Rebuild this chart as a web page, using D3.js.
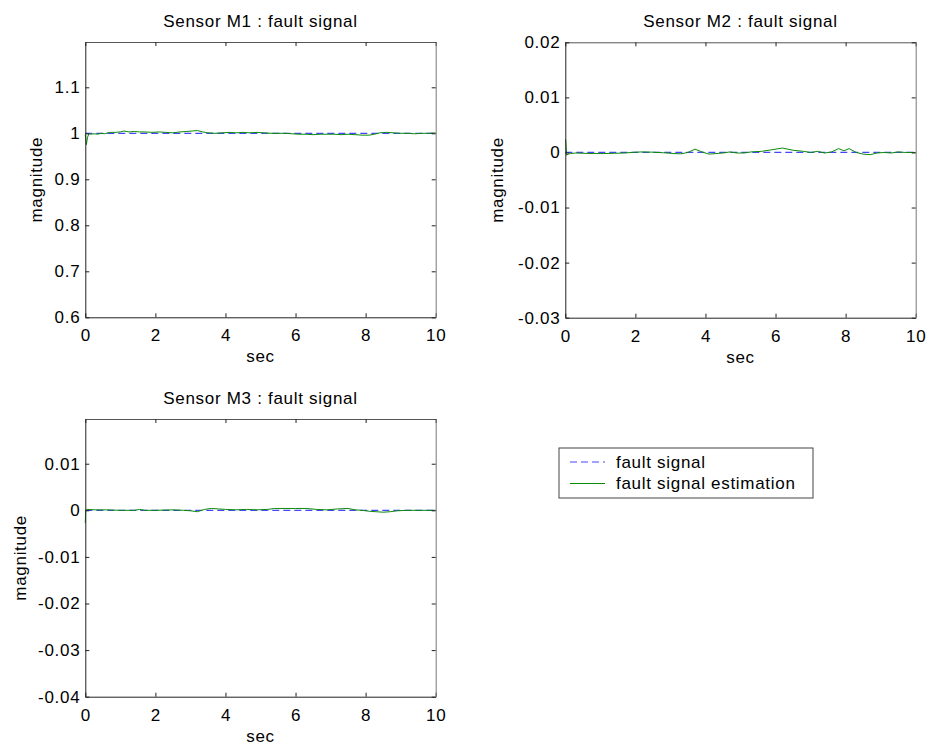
<!DOCTYPE html>
<html>
<head>
<meta charset="utf-8">
<script src="https://cdn.jsdelivr.net/npm/d3@7"></script>
<style>
  body { margin: 0; background: #fff; }
  svg text { font-family: Arial, "Liberation Sans", Helvetica, sans-serif; fill: #000; letter-spacing: 0.7px; }
</style>
</head>
<body>
<script>
// ---- data ----
// fault signal level for each sensor (constant)
var faultLevel = [1, 0, 0];

// Sensor M1 estimate
var timeM1 = [0.00, 0.03, 0.06, 0.10, 0.15, 0.25, 0.35, 0.45, 0.55, 0.70, 0.85, 1.00, 1.10, 1.25, 1.40, 1.55, 1.70, 1.90,
  2.10, 2.30, 2.50, 2.70, 2.90, 3.05, 3.20, 3.35, 3.50, 3.70, 3.90, 4.10, 4.30, 4.50, 4.70, 4.90, 5.10, 5.30, 5.50,
  5.70, 5.90, 6.10, 6.30, 6.50, 6.70, 6.90, 7.10, 7.30, 7.50, 7.70, 7.90, 8.10, 8.25, 8.40, 8.60, 8.80, 9.00, 9.20,
  9.40, 9.60, 9.80, 10.00];
var estM1 = [0.997, 0.975, 0.990, 0.999, 0.998, 0.999, 0.998, 1.000, 0.999, 1.002, 1.002, 1.003, 1.005, 1.003, 1.004,
  1.003, 1.003, 1.002, 1.003, 1.002, 1.001, 1.003, 1.004, 1.005, 1.006, 1.003, 1.001, 1.000, 1.001, 1.002, 1.001,
  1.002, 1.001, 1.002, 1.001, 1.000, 1.000, 1.000, 0.999, 0.998, 0.998, 0.997, 0.998, 0.998, 0.998, 0.997, 0.998,
  0.997, 0.996, 0.996, 0.998, 1.001, 1.002, 1.001, 1.000, 1.000, 0.999, 1.000, 1.000, 1.001];

// Sensor M2 estimate
var timeM2 = [0.00, 0.01, 0.04, 0.08, 0.15, 0.3, 0.5, 0.8, 1.1, 1.4, 1.7, 2.0, 2.2, 2.5, 2.8, 3.1, 3.3, 3.5, 3.7, 3.9,
  4.1, 4.3, 4.5, 4.7, 4.9, 5.1, 5.3, 5.6, 5.9, 6.2, 6.5, 6.8, 7.0, 7.2, 7.4, 7.6, 7.8, 7.95, 8.1, 8.3, 8.5, 8.7,
  8.9, 9.1, 9.3, 9.5, 9.7, 10.0];
var estM2 = [0.0023, 0.00235, -0.0005, -0.0003, -0.0002, -0.0001, -0.00015, -0.0002, -0.0002, -0.00015, -0.0001,
  0.00005, 0.0001, 0.00005, -0.00005, -0.0002, -0.00025, 0.0, 0.0006, 0.0001, -0.0003, -0.0002, -0.0001, 0.0001,
  -0.0001, -0.0001, 0.0001, 0.0002, 0.0005, 0.0008, 0.0004, 0.0002, 0.0, 0.0002, -0.0001, 0.0001, 0.0007, 0.0003,
  0.0007, 0.0, -0.0003, -0.0004, -0.0001, 0.0, -0.0001, 0.0001, 0.0, 0.0];

// Sensor M3 estimate
var timeM3 = [0.00, 0.01, 0.05, 0.3, 0.6, 1.0, 1.4, 1.55, 1.7, 2.0, 2.5, 2.8, 3.0, 3.2, 3.4, 3.6, 3.8, 4.0, 4.3, 4.6,
  4.9, 5.2, 5.4, 5.7, 6.0, 6.3, 6.6, 6.9, 7.2, 7.5, 7.7, 7.9, 8.1, 8.3, 8.5, 8.7, 8.9, 9.2, 9.5, 9.8, 10.0];
var estM3 = [-0.0027, -0.0001, 0.0002, 0.0001, 0.0001, 0.0, 0.0, 0.0002, 0.0, 0.0, 0.0001, 0.0, -0.0001, -0.0003,
  0.0002, 0.0004, 0.0003, 0.0002, 0.0001, 0.0002, 0.0001, 0.0002, 0.0004, 0.0004, 0.0004, 0.0004, 0.0002, 0.0001,
  0.0003, 0.0004, 0.0001, 0.0, -0.0002, -0.0003, -0.0004, -0.0003, -0.0001, 0.0, 0.0, 0.0, 0.0];

// axis ticks
var xTicks = [0, 2, 4, 6, 8, 10];
var yTicksM1 = [0.6, 0.7, 0.8, 0.9, 1, 1.1];
var yTicksM2 = [-0.03, -0.02, -0.01, 0, 0.01, 0.02];
var yTicksM3 = [-0.04, -0.03, -0.02, -0.01, 0, 0.01];

var titles = ['Sensor M1 : fault signal', 'Sensor M2 : fault signal', 'Sensor M3 : fault signal'];
var legendLabels = ['fault signal', 'fault signal estimation'];

// ---- layout ----
var W = 930, H = 749;
var FONT = 17;
var blue = '#4646ff', green = '#0a8a0a';

var panels = [
  {x0: 85.3, x1: 435.7, y0: 42, y1: 317.3, yDom: [0.6, 1.1985], yTicks: yTicksM1, t: timeM1, v: estM1, f: faultLevel[0], title: titles[0], ylx: 42},
  {x0: 565.3, x1: 915.7, y0: 42.3, y1: 317.7, yDom: [-0.03, 0.02], yTicks: yTicksM2, t: timeM2, v: estM2, f: faultLevel[1], title: titles[1], ylx: 503},
  {x0: 85.3, x1: 435.7, y0: 419, y1: 696.7, yDom: [-0.04, 0.0196], yTicks: yTicksM3, t: timeM3, v: estM3, f: faultLevel[2], title: titles[2], ylx: 26}
];

// matlab style labels: plain hyphen, no trailing zeros
function fmt(d) { return String(+d.toFixed(4)); }

var svg = d3.select('body')
  .append('svg')
    .attr('width', W)
    .attr('height', H);

panels.forEach(function(p) {
  var x = d3.scaleLinear().domain([0, 10]).range([p.x0, p.x1]);
  var y = d3.scaleLinear().domain(p.yDom).range([p.y1, p.y0]);
  var g = svg.append('g');

  g.append('rect')
    .attr('x', p.x0).attr('y', p.y0)
    .attr('width', p.x1 - p.x0).attr('height', p.y1 - p.y0)
    .attr('fill', '#fff');

  // fault signal (dashed)
  g.append('path')
    .datum(xTicks.filter(function(d, i) { return i == 0 || i == xTicks.length - 1; }))
    .attr('fill', 'none')
    .attr('stroke', blue)
    .attr('stroke-width', 1.2)
    .attr('stroke-dasharray', '7,4')
    .attr('d', d3.line().x(function(d) { return x(d); }).y(function() { return y(p.f); }));

  // estimation
  g.append('path')
    .datum(d3.zip(p.t, p.v))
    .attr('fill', 'none')
    .attr('stroke', green)
    .attr('stroke-width', 1)
    .attr('d', d3.line().x(function(d) { return x(d[0]); }).y(function(d) { return y(d[1]); }));

  // axes, ticks inside like matlab
  var bottom = g.append('g')
    .attr('transform', 'translate(0,' + p.y1 + ')')
    .call(d3.axisBottom(x).tickValues(xTicks).tickFormat(fmt).tickSizeInner(-4).tickSizeOuter(0).tickPadding(12));
  var top = g.append('g')
    .attr('transform', 'translate(0,' + p.y0 + ')')
    .call(d3.axisTop(x).tickValues(xTicks).tickFormat('').tickSizeInner(-4).tickSizeOuter(0));
  var left = g.append('g')
    .attr('transform', 'translate(' + p.x0 + ',0)')
    .call(d3.axisLeft(y).tickValues(p.yTicks).tickFormat(fmt).tickSizeInner(-4).tickSizeOuter(0).tickPadding(5));
  var right = g.append('g')
    .attr('transform', 'translate(' + p.x1 + ',0)')
    .call(d3.axisRight(y).tickValues(p.yTicks).tickFormat('').tickSizeInner(-4).tickSizeOuter(0));

  [bottom, top, left, right].forEach(function(a) {
    a.selectAll('text').style('font-size', FONT + 'px').attr('fill', '#000')
      .style('font-family', 'Arial, "Liberation Sans", sans-serif');
    a.selectAll('.tick line').attr('stroke', '#222');
  });
  bottom.select('.domain').attr('stroke', '#222');
  left.select('.domain').attr('stroke', '#222');
  top.select('.domain').attr('stroke', '#555');
  right.select('.domain').attr('stroke', '#777');

  // title
  g.append('text')
    .attr('x', (p.x0 + p.x1) / 2)
    .attr('y', p.y0 - 15)
    .attr('text-anchor', 'middle')
    .style('font-size', FONT + 'px')
    .text(p.title);

  // x label
  g.append('text')
    .attr('x', (p.x0 + p.x1) / 2)
    .attr('y', p.y1 + 45)
    .attr('text-anchor', 'middle')
    .style('font-size', FONT + 'px')
    .text('sec');

  // y label
  g.append('text')
    .attr('transform', 'translate(' + p.ylx + ',' + ((p.y0 + p.y1) / 2) + ') rotate(-90)')
    .attr('text-anchor', 'middle')
    .style('font-size', FONT + 'px')
    .text('magnitude');
});

// legend
var lg = svg.append('g').attr('transform', 'translate(559,448)');
lg.append('rect')
  .attr('width', 254).attr('height', 50)
  .attr('fill', '#fff').attr('stroke', '#444').attr('stroke-width', 1);
var rows = lg.selectAll('g.row')
  .data(legendLabels)
  .enter().append('g')
    .attr('class', 'row')
    .attr('transform', function(d, i) { return 'translate(0,' + (14 + i * 21.5) + ')'; });
rows.append('line')
  .attr('x1', 11).attr('x2', 46)
  .attr('stroke', function(d, i) { return i == 0 ? blue : green; })
  .attr('stroke-width', 1.2)
  .attr('stroke-dasharray', function(d, i) { return i == 0 ? '7,4' : null; });
rows.append('text')
  .attr('x', 57)
  .attr('y', 5.5)
  .style('font-size', FONT + 'px')
  .text(function(d) { return d; });
</script>
</body>
</html>
